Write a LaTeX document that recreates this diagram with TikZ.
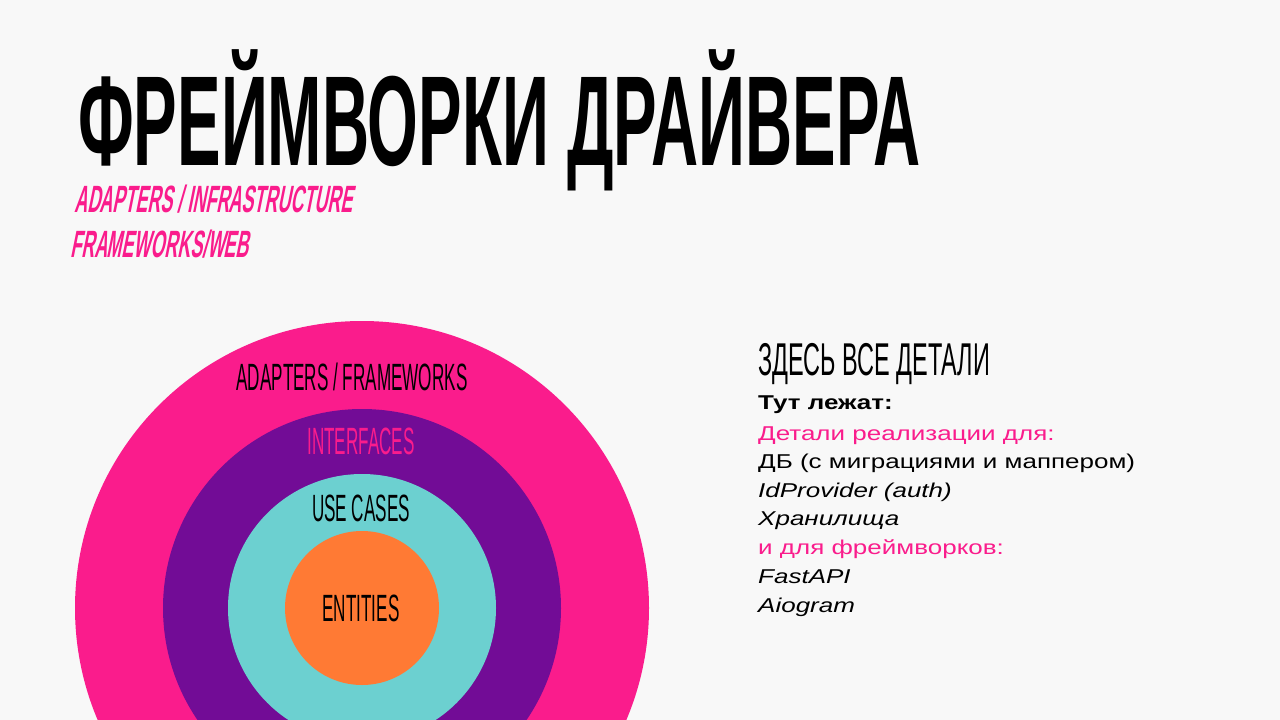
\documentclass[tikz,border=0pt]{standalone}
\usepackage{fontspec}
\setmainfont{Liberation Sans}
\newfontfamily\titlefont[FakeStretch=0.51]{Liberation Sans}
\newfontfamily\tagfont[FakeStretch=0.47,FakeSlant=0.2]{Liberation Sans}
\newfontfamily\ringfont[FakeStretch=0.45]{Liberation Sans}
\newfontfamily\thinfont[FakeStretch=0.51]{Liberation Sans}
\newfontfamily\bodyfont[FakeStretch=1.3]{Liberation Sans}
\definecolor{pagebg}{RGB}{248,248,248}
\definecolor{ringpink}{RGB}{250,28,140}
\definecolor{ringviolet}{RGB}{114,12,150}
\definecolor{ringcyan}{RGB}{108,208,208}
\definecolor{ringorange}{RGB}{255,122,52}

\begin{document}
\begin{tikzpicture}[x=1pt,y=-1pt,
  ringlabel/.style={anchor=base,font=\ringfont\fontsize{38}{38}\selectfont},
  tag/.style={anchor=base west,text=ringpink,font=\tagfont\bfseries\fontsize{38}{38}\selectfont},
  detail/.style={anchor=base west,font=\bodyfont\fontsize{20}{20}\selectfont}]
\fill[pagebg] (0,0) rectangle (1280,720);
\clip (0,0) rectangle (1280,720);
\coordinate (core) at (362,608);
\foreach \r/\c in {287/ringpink,199/ringviolet,134/ringcyan,77/ringorange}
  \fill[\c] (core) circle[radius=\r pt];
\node[anchor=base west,inner sep=0pt,text depth=0pt,font=\titlefont\bfseries\fontsize{128}{128}\selectfont] (title) at (78,165) {ФРЕЙМВОРКИ ДРАЙВЕРА};
\node[tag,inner sep=0pt] (infra) at (74,212) {ADAPTERS / INFRASTRUCTURE};
\node[tag,inner sep=0pt] (web) at (70,257) {FRAMEWORKS/WEB};
\node[ringlabel] (adapters) at (352,390) {ADAPTERS / FRAMEWORKS};
\node[ringlabel,text=ringpink] (interfaces) at (361,454) {INTERFACES};
\node[ringlabel] (usecases) at (361,521) {USE CASES};
\node[ringlabel] (entities) at (361,621) {ENTITIES};
\node[anchor=base west,inner sep=0pt,font=\thinfont\fontsize{46}{46}\selectfont] (heading) at (758,375) {ЗДЕСЬ ВСЕ ДЕТАЛИ};
\node[detail,inner sep=0pt,font=\bodyfont\bfseries\fontsize{20}{20}\selectfont] (here) at (758,409) {Тут лежат:};
\node[detail,inner sep=0pt,text=ringpink] (impl) at (758,440) {Детали реализации для:};
\node[detail,inner sep=0pt] (db) at (758,468) {ДБ (с миграциями и маппером)};
\node[detail,inner sep=0pt,font=\bodyfont\itshape\fontsize{20}{20}\selectfont] (idp) at (758,497) {IdProvider (auth)};
\node[detail,inner sep=0pt,font=\bodyfont\itshape\fontsize{20}{20}\selectfont] (store) at (758,525) {Хранилища};
\node[detail,inner sep=0pt,text=ringpink] (fw) at (758,554) {и для фреймворков:};
\node[detail,inner sep=0pt,font=\bodyfont\itshape\fontsize{20}{20}\selectfont] (fastapi) at (758,583) {FastAPI};
\node[detail,inner sep=0pt,font=\bodyfont\itshape\fontsize{20}{20}\selectfont] (aiogram) at (758,612) {Aiogram};
\end{tikzpicture}
\end{document}
